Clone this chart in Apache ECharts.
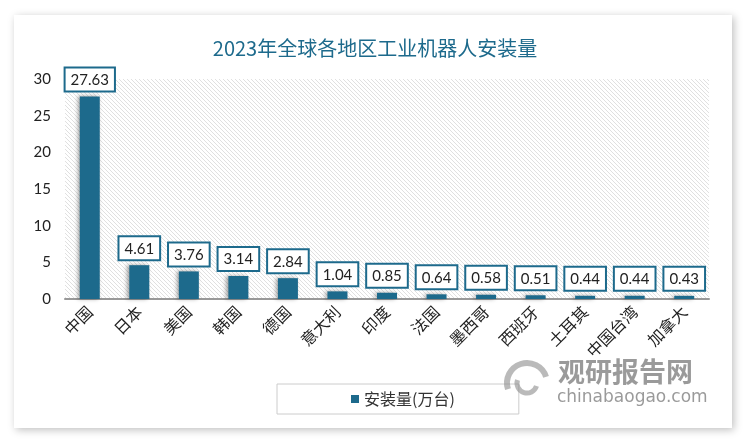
<!DOCTYPE html>
<html>
<head>
<meta charset="utf-8">
<script src="https://cdn.jsdelivr.net/npm/echarts@6/dist/echarts.min.js"></script>
<style>
  html, body { margin: 0; padding: 0; background: #fff; }
  #main { width: 750px; height: 445px; }
</style>
</head>
<body>
<div id="main"></div>
<script>
// 数据
var regions = ['中国', '日本', '美国', '韩国', '德国', '意大利', '印度', '法国', '墨西哥', '西班牙', '土耳其', '中国台湾', '加拿大'];
var installs = [27.63, 4.61, 3.76, 3.14, 2.84, 1.04, 0.85, 0.64, 0.58, 0.51, 0.44, 0.44, 0.43];
var yTicks = [0, 5, 10, 15, 20, 25, 30];

var mainColor = '#1d6a8c';

// 斜线底纹
function makeHatch() {
  var c = document.createElement('canvas');
  c.width = 4; c.height = 4;
  var ctx = c.getContext('2d');
  ctx.fillStyle = '#ffffff';
  ctx.fillRect(0, 0, 4, 4);
  ctx.strokeStyle = '#e0e0e0';
  ctx.lineWidth = 1;
  ctx.beginPath();
  ctx.moveTo(0, 0); ctx.lineTo(4, 4);
  ctx.moveTo(-1, 3); ctx.lineTo(1, 5);
  ctx.moveTo(3, -1); ctx.lineTo(5, 1);
  ctx.stroke();
  return c;
}

var myChart = echarts.init(document.getElementById('main'));
var option = {
  backgroundColor: '#ffffff',
  animation: false,
  title: {
    text: '2023年全球各地区工业机器人安装量',
    left: 'center',
    top: 33,
    textStyle: {
      color: mainColor,
      fontSize: 20,
      fontWeight: 'normal',
      fontFamily: 'Noto Sans CJK SC'
    }
  },
  graphic: [
    {
      type: 'rect',
      z: -10,
      shape: { x: 14, y: 15, width: 718, height: 413 },
      style: {
        fill: '#ffffff',
        shadowBlur: 8,
        shadowColor: 'rgba(0,0,0,0.25)',
        shadowOffsetX: 2,
        shadowOffsetY: 2
      }
    },
    {
      type: 'arc',
      z: 5,
      shape: { cx: 527, cy: 383, r: 20, startAngle: Math.PI * 0.9, endAngle: Math.PI * 1.9 },
      style: { stroke: 'rgba(140,140,140,0.6)', lineWidth: 6, fill: 'none' }
    },
    {
      type: 'arc',
      z: 5,
      shape: { cx: 527, cy: 383, r: 10, startAngle: Math.PI * 0.1, endAngle: Math.PI * 1.1 },
      style: { stroke: 'rgba(140,140,140,0.6)', lineWidth: 5, fill: 'none' }
    },
    {
      type: 'text',
      z: 5,
      left: 558,
      top: 358,
      style: {
        text: '观研报告网',
        fill: 'rgba(120,120,120,0.75)',
        font: 'bold 27px "Noto Sans CJK SC"'
      }
    },
    {
      type: 'text',
      z: 5,
      left: 557,
      top: 389,
      style: {
        text: 'chinabaogao.com',
        fill: 'rgba(120,120,120,0.75)',
        font: '17px "DejaVu Sans"'
      }
    }
  ],
  legend: {
    data: ['安装量(万台)'],
    left: 277,
    top: 384,
    padding: [7, 64, 7, 74],
    borderColor: '#cccccc',
    borderWidth: 1,
    icon: 'rect',
    itemWidth: 8,
    itemHeight: 8,
    itemGap: 5,
    textStyle: {
      fontSize: 16,
      color: '#333',
      fontFamily: 'Noto Sans CJK SC'
    }
  },
  grid: {
    left: 65,
    right: 41,
    top: 79,
    bottom: 146,
    show: true,
    borderWidth: 0,
    backgroundColor: { image: makeHatch(), repeat: 'repeat' }
  },
  xAxis: {
    type: 'category',
    data: regions,
    axisLine: { lineStyle: { color: '#999', width: 2 } },
    axisTick: { show: false },
    axisLabel: {
      rotate: 45,
      interval: 0,
      color: '#222',
      fontSize: 16,
      margin: 10,
      fontFamily: 'Noto Sans CJK SC'
    }
  },
  yAxis: {
    type: 'value',
    min: yTicks[0],
    max: yTicks[yTicks.length - 1],
    interval: 5,
    axisLine: { show: false },
    axisTick: { show: false },
    splitLine: { show: false },
    axisLabel: {
      color: '#222',
      fontSize: 15,
      margin: 14,
      fontFamily: 'Lato'
    }
  },
  series: [{
    name: '安装量(万台)',
    type: 'bar',
    data: installs,
    barWidth: 20,
    itemStyle: {
      color: mainColor,
      shadowColor: 'rgba(0,0,0,0.35)',
      shadowBlur: 4,
      shadowOffsetX: -2,
      shadowOffsetY: 0
    },
    label: {
      show: true,
      position: 'top',
      distance: 6,
      formatter: function (p) { return p.value.toFixed(2); },
      color: '#222',
      fontSize: 15,
      fontFamily: 'Lato',
      backgroundColor: '#fff',
      borderColor: mainColor,
      borderWidth: 2,
      padding: [4, 5, 3, 5]
    }
  }]
};
myChart.setOption(option);
</script>
</body>
</html>
